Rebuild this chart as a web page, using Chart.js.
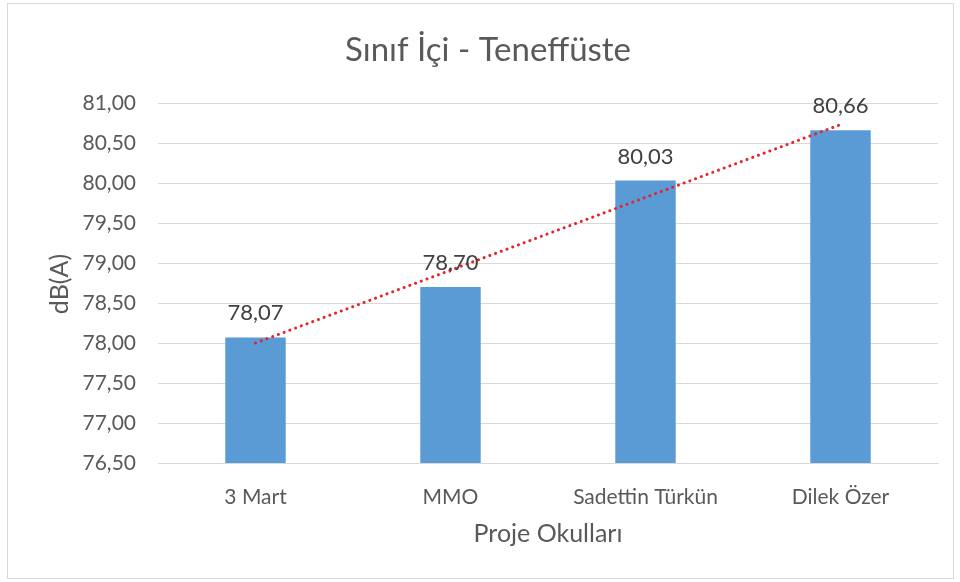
<!DOCTYPE html>
<html>
<head>
<meta charset="utf-8">
<script src="https://cdn.jsdelivr.net/npm/chart.js@4/dist/chart.umd.min.js"></script>
<style>
  body { margin: 0; background: #fff; }
  canvas { display: block; }
</style>
</head>
<body>
<canvas id="noiseChart" width="960" height="582"></canvas>
<script>
const schools = ['3 Mart', 'MMO', 'Sadettin Türkün', 'Dilek Özer'];
const levels = [78.07, 78.70, 80.03, 80.66];
// linear trendline
const trendValues = [78.00, 78.91, 79.82, 80.73];
const yMin = 76.5, yMax = 81, yStep = 0.5;

const FONT = 'Lato, "Open Sans", sans-serif';
const textColor = '#595959';

function fmt(v) {
  return v.toFixed(2).replace('.', ',');
}

const decorPlugin = {
  id: 'decor',
  beforeDraw(chart) {
    const ctx = chart.ctx;
    ctx.save();
    ctx.strokeStyle = '#d9d9d9';
    ctx.lineWidth = 1;
    ctx.strokeRect(7.5, 3.5, 946, 575);
    ctx.restore();
  },
  afterDraw(chart) {
    const ctx = chart.ctx;
    const area = chart.chartArea;
    ctx.save();
    ctx.fillStyle = textColor;
    ctx.textAlign = 'center';
    ctx.textBaseline = 'middle';
    ctx.font = '33px ' + FONT;
    ctx.fillText('Sınıf İçi - Teneffüste', 488, 50);

    ctx.font = '25px ' + FONT;
    ctx.fillText('Proje Okulları', (area.left + area.right) / 2, 534);

    ctx.translate(60, 284);
    ctx.rotate(-Math.PI / 2);
    ctx.fillText('dB(A)', 0, 0);
    ctx.restore();

    // data labels above bars
    const meta = chart.getDatasetMeta(1);
    ctx.save();
    ctx.fillStyle = '#404040';
    ctx.font = '22px ' + FONT;
    ctx.textAlign = 'center';
    ctx.textBaseline = 'alphabetic';
    meta.data.forEach((bar, i) => {
      ctx.fillText(fmt(levels[i]), bar.x, bar.y - 17);
    });
    ctx.restore();
  }
};

const ctx = document.getElementById('noiseChart').getContext('2d');
const noiseChart = new Chart(ctx, {
  type: 'bar',
  data: {
    labels: schools,
    datasets: [{
      type: 'line',
      label: 'Trend',
      data: trendValues,
      borderColor: '#e3242b',
      borderWidth: 3,
      borderDash: [0.1, 6],
      borderCapStyle: 'round',
      pointRadius: 0,
      fill: false,
      order: 0,
    }, {
      label: 'dB(A)',
      data: levels,
      backgroundColor: '#5b9bd5',
      categoryPercentage: 1,
      barPercentage: 0.31,
      order: 1,
    }]
  },
  options: {
    responsive: false,
    animation: false,
    layout: {
      padding: { top: 103, right: 22, left: 0, bottom: 0 },
    },
    plugins: {
      legend: { display: false },
      tooltip: { enabled: false },
    },
    scales: {
      x: {
        grid: { display: false },
        border: { color: '#d9d9d9' },
        ticks: {
          color: textColor,
          font: { family: FONT, size: 21 },
          padding: 14,
        },
        afterFit(scale) { scale.height = 119; },
      },
      y: {
        min: yMin,
        max: yMax,
        grid: { color: '#d9d9d9', drawTicks: false },
        border: { display: false },
        ticks: {
          stepSize: yStep,
          color: textColor,
          font: { family: FONT, size: 21 },
          padding: 22,
          callback: (v) => fmt(v),
        },
        afterFit(scale) { scale.width = 158; },
      },
    },
  },
  plugins: [decorPlugin],
});
</script>
</body>
</html>
